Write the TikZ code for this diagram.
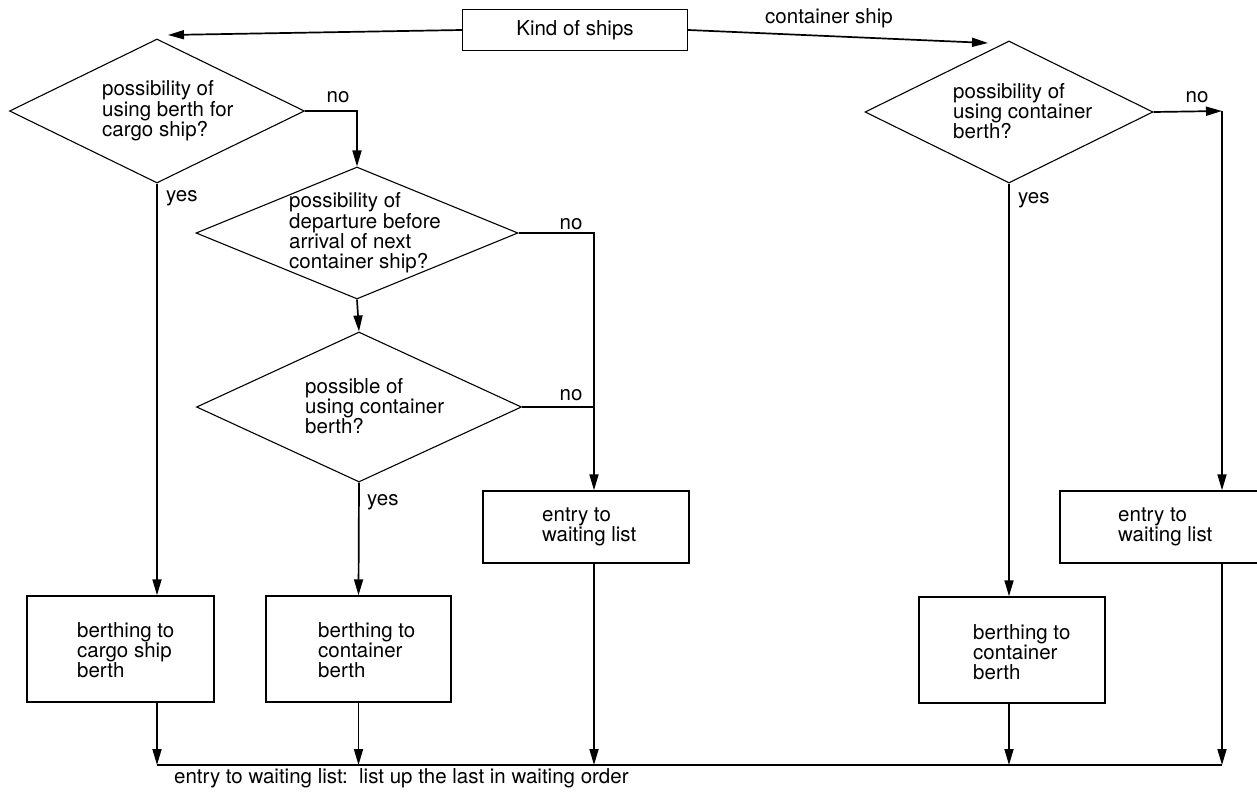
\documentclass[tikz,border=0pt]{standalone}
\usepackage{fontspec}
\setmainfont{TeX Gyre Heros}
\usetikzlibrary{arrows.meta,shapes.geometric,calc}
\begin{document}
\begin{tikzpicture}[x=1pt,y=-1pt,
  every node/.style={font=\fontsize{20.5}{20.3}\selectfont},
  dia/.style={draw,diamond,line width=1.1pt,inner sep=0pt,minimum width=#1},
  box/.style={draw,rectangle,line width=1.4pt,inner sep=0pt},
  txt/.style={anchor=west,align=left,inner sep=0pt},
  lab/.style={inner sep=0pt},
  arr/.style={-{Triangle[length=16pt,width=9pt]},line width=1.7pt},
  ln/.style={line width=1.7pt}]
\clip (0,0) rectangle (1257,797);
\fill[white] (0,0) rectangle (1257,797);

% top box
\node[box,minimum width=225pt,minimum height=41pt] (kind) at (575,30) {Kind of ships};

% diamonds
\node[dia=295pt,minimum height=144pt] (d1) at (157,111) {};
\node[dia=322pt,minimum height=132pt] (d2) at (357,233) {};
\node[dia=325pt,minimum height=150pt] (d3) at (359,407) {};
\node[dia=288pt,minimum height=142pt] (d4) at (1009,112) {};

\node[txt] (t1) at (102,111) {possibility of\\using berth for\\cargo ship?};
\node[txt] (t2) at (289,233) {possibility of\\departure before\\arrival of next\\container ship?};
\node[txt] (t3) at (305,406) {possible of\\using container\\berth?};
\node[txt] (t4) at (953,111) {possibility of\\using container\\berth?};

% boxes
\node[box,minimum width=187pt,minimum height=106pt] (b1) at (120.5,649) {};
\node[box,minimum width=185pt,minimum height=106pt] (b2) at (358.5,649) {};
\node[box,minimum width=186pt,minimum height=106pt] (b4) at (1012,650) {};
\node[box,minimum width=206pt,minimum height=72pt] (e1) at (586,527) {};
\node[box,minimum width=206pt,minimum height=72pt] (e2) at (1163,527) {};

\node[txt] (tb1) at (77,650) {berthing to\\cargo ship\\berth};
\node[txt] (tb2) at (318,650) {berthing to\\container\\berth};
\node[txt] (tb4) at (973,652) {berthing to\\container\\berth};
\node[txt] (te1) at (542,527) {entry to\\waiting list};
\node[txt] (te2) at (1118,527) {entry to\\waiting list};

% labels
\node[lab] (lcs) at (829,18) {container ship};
\node[lab] (lno1) at (338,97) {no};
\node[lab,anchor=west] (lyes1) at (166,198) {yes};
\node[lab] (lno2) at (571,224) {no};
\node[lab] (lno3) at (571,395) {no};
\node[lab,anchor=west] (lyes3) at (367,502) {yes};
\node[lab] (lno4) at (1197,97) {no};
\node[lab,anchor=west] (lyes4) at (1018,200) {yes};
\node[lab,anchor=west] (bottom) at (174,778) {entry to waiting list:\ \ list up the last in waiting order};

% helper coordinates
\coordinate (a1) at (168,35);
\coordinate (a4) at (988,43);
\coordinate (v1) at (594,237);
\coordinate (v2) at (1222,111);
\coordinate (bl) at (0,765);

% connectors
\draw[arr] (kind.west) -- (a1);
\draw[arr] (kind.east) -- (a4);
\draw[arr] (d1.east) -| (d2.north);
\draw[arr] (d1.south) -- (d1.south |- b1.north);
\draw[arr] (d2.south) -- (d3.north);
\draw[arr] (d3.south) -- (b2.north);
\draw[arr] (d2.east) -| (v1 |- e1.north);
\draw[ln] (d3.east) -- (v1 |- d3.east);
\draw[arr] (d4.east) -- (v2);
\draw[arr] (v2) -- (v2 |- e2.north);
\draw[arr] (d4.south) -- (d4.south |- b4.north);

\draw[arr] (d1.south |- b1.south) -- (d1.south |- bl);
\draw[arr] (b2.south) -- (b2.south |- bl);
\draw[arr] (v1 |- e1.south) -- (v1 |- bl);
\draw[arr] (d4.south |- b4.south) -- (d4.south |- bl);
\draw[arr] (v2 |- e2.south) -- (v2 |- bl);
\draw[ln] (d1.south |- bl) -- (v2 |- bl);
\end{tikzpicture}
\end{document}
